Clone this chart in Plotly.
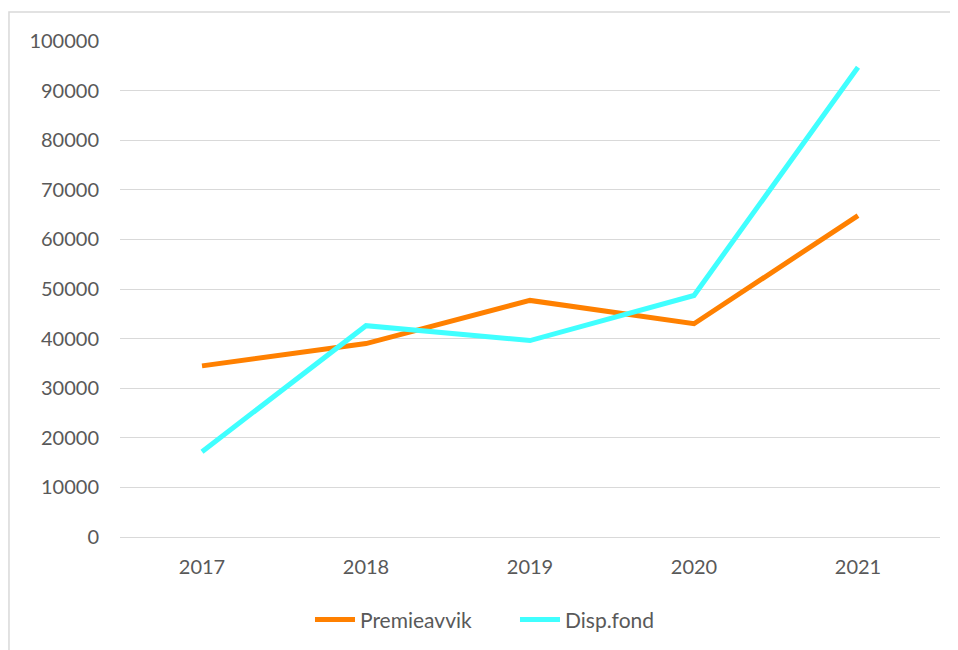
import plotly.graph_objects as go

years = ["2017", "2018", "2019", "2020", "2021"]
premieavvik = [34500, 39000, 47700, 43000, 64800]
disp_fond = [17200, 42600, 39600, 48700, 94700]
y_ticks = [0, 10000, 20000, 30000, 40000, 50000, 60000, 70000, 80000, 90000, 100000]

fig = go.Figure()
fig.add_trace(go.Scatter(x=years, y=premieavvik, mode="lines", name="Premieavvik",
                         line=dict(color="#FF8000", width=5)))
fig.add_trace(go.Scatter(x=years, y=disp_fond, mode="lines", name="Disp.fond",
                         line=dict(color="#40FFFF", width=5)))

fig.update_layout(
    width=950, height=642,
    margin=dict(l=112, r=18, t=33, b=113),
    paper_bgcolor="white", plot_bgcolor="white",
    font=dict(family="Lato, Open Sans, sans-serif", size=20, color="#595959"),
    showlegend=True,
    legend=dict(orientation="h", x=0.2317, xanchor="left",
                yref="container", y=0.047, yanchor="middle",
                font=dict(size=21, color="#595959"), itemwidth=40, tracegroupgap=0,
                entrywidth=150, entrywidthmode="pixels"),
    xaxis=dict(type="category", range=[-0.5, 4.5], showgrid=False, showline=False,
               ticks="", ticklabelstandoff=16),
    yaxis=dict(range=[0, 100000], tickvals=y_ticks, ticktext=[str(v) for v in y_ticks],
               showgrid=True, gridcolor="#D9D9D9", gridwidth=1.3, zeroline=True,
               zerolinecolor="#D9D9D9", zerolinewidth=1.3, showline=False, ticks="",
               ticklabelstandoff=20),
    shapes=[dict(type="rect", xref="paper", yref="paper", x0=-0.1354, x1=1.15,
                 y0=-0.3, y1=1.0585, line=dict(color="#D9D9D9", width=1.5),
                 fillcolor="rgba(0,0,0,0)", layer="below")],
)

fig.write_html("out.html")
